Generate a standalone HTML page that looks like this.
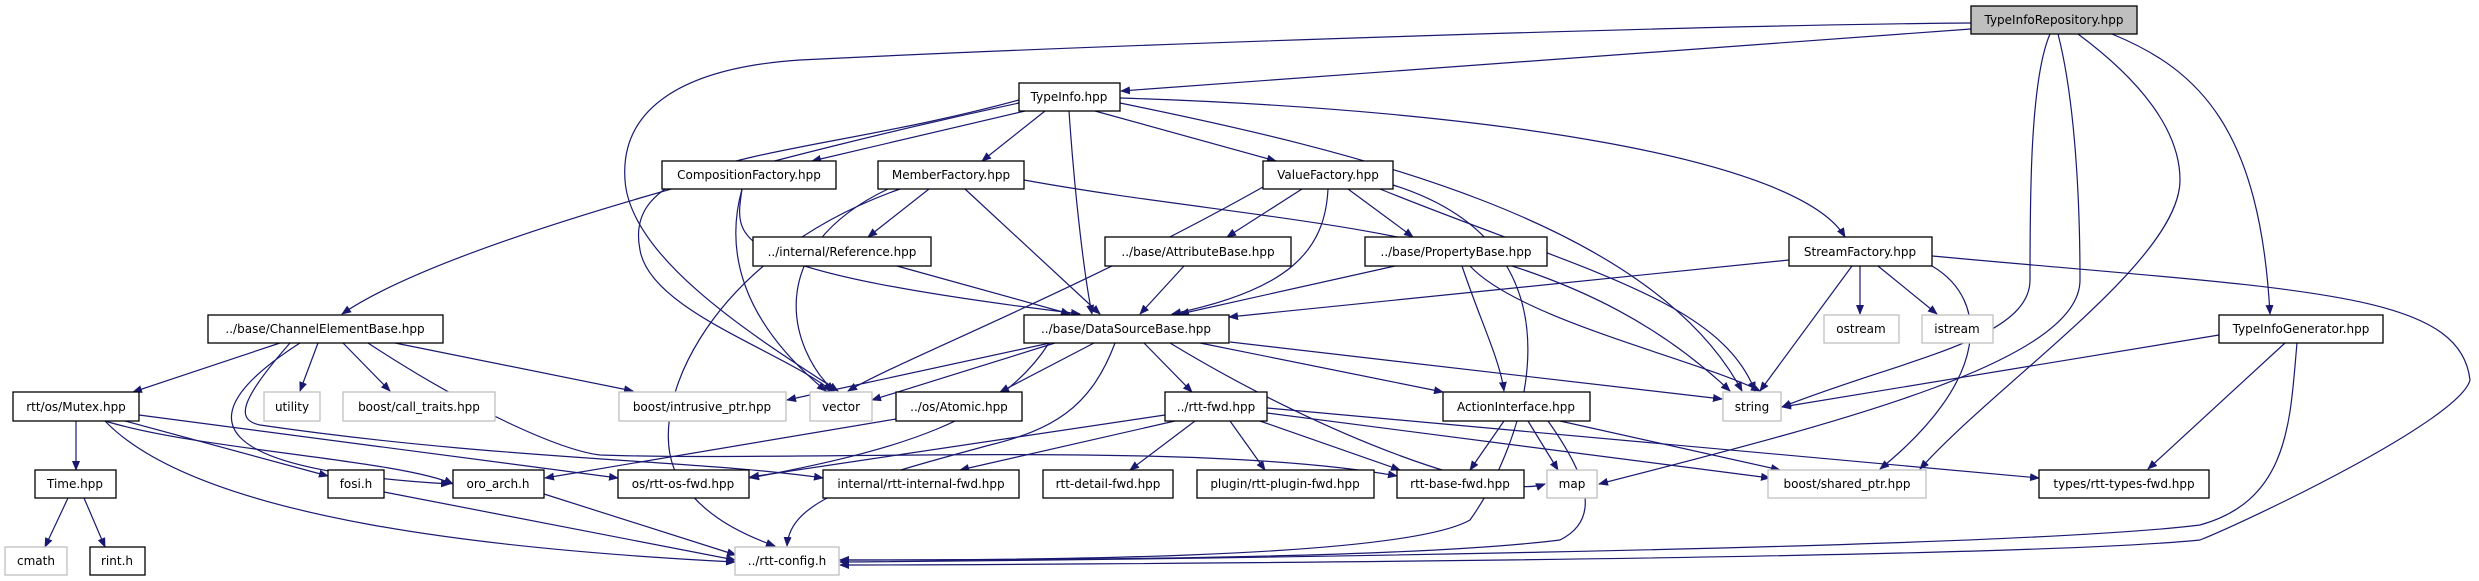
<!DOCTYPE html>
<html><head><meta charset="utf-8"><style>
html,body{margin:0;padding:0;background:#fff;}
svg{display:block;}
text{font-family:"DejaVu Sans","Liberation Sans",sans-serif;font-size:12px;fill:#000;text-anchor:middle;}
.n{fill:#fff;stroke:#000;stroke-width:1.3;}
.g{fill:#fff;stroke:#c0c0c0;stroke-width:1.3;}
.e{fill:none;stroke:#191970;stroke-width:1.2;marker-end:url(#a);}
</style></head><body>
<svg width="2479" height="581" viewBox="0 0 2479 581" xmlns="http://www.w3.org/2000/svg">
<defs><marker id="a" markerWidth="10" markerHeight="8" refX="9" refY="4" orient="auto" markerUnits="userSpaceOnUse"><path d="M0,0 L10,4 L0,8 z" fill="#191970"/></marker></defs>

<g>
<path class="e" d="M1971,29 L1121,91"/>
<path class="e" d="M1971,23 C1700,25 1100,45 800,60 C680,68 620,110 625,180 C630,260 760,340 838,391"/>
<path class="e" d="M2050,34 C2030,80 2030,200 2030,280 C2030,340 1900,360 1782,407"/>
<path class="e" d="M2058,34 C2075,100 2080,200 2080,280 C2080,360 1850,420 1599,484"/>
<path class="e" d="M2078,34 C2140,80 2180,130 2180,180 C2180,260 2000,380 1920,469"/>
<path class="e" d="M2112,34 C2200,70 2260,130 2270,314"/>
<path class="e" d="M1019,103 C800,150 450,240 342,314"/>
<path class="e" d="M1019,100 C800,160 620,150 640,250 C650,310 780,350 832,391"/>
<path class="e" d="M1025,111 L812,161"/>
<path class="e" d="M1045,111 L982,161"/>
<path class="e" d="M1069,111 C1075,200 1085,280 1092,314"/>
<path class="e" d="M1095,111 L1276,161"/>
<path class="e" d="M1120,103 C1350,150 1650,220 1742,391"/>
<path class="e" d="M1120,98 C1500,110 1800,160 1845,237"/>
<path class="e" d="M742,189 C735,240 720,270 1080,314"/>
<path class="e" d="M742,189 C725,250 740,320 826,391"/>
<path class="e" d="M929,189 L868,237"/>
<path class="e" d="M965,189 L1100,314"/>
<path class="e" d="M1024,180 C1300,230 1550,220 1730,391"/>
<path class="e" d="M900,189 C700,260 640,420 680,480 C700,510 730,530 775,546"/>
<path class="e" d="M888,189 C760,250 790,350 834,391"/>
<path class="e" d="M1302,189 L1227,237"/>
<path class="e" d="M1348,189 L1413,237"/>
<path class="e" d="M1328,189 C1325,250 1290,290 1172,314"/>
<path class="e" d="M1263,187 C1080,290 900,360 848,391"/>
<path class="e" d="M1380,189 C1580,270 1720,300 1755,391"/>
<path class="e" d="M1393,185 C1600,250 1520,450 1470,520 C1400,560 1000,560 840,560"/>
<path class="e" d="M897,266 L1070,314"/>
<path class="e" d="M1184,266 L1140,314"/>
<path class="e" d="M1395,266 L1180,314"/>
<path class="e" d="M1462,266 C1480,320 1500,360 1504,391"/>
<path class="e" d="M1470,266 C1520,320 1700,360 1760,391"/>
<path class="e" d="M1789,260 L1229,317"/>
<path class="e" d="M1860,266 L1860,314"/>
<path class="e" d="M1878,266 L1937,314"/>
<path class="e" d="M1852,266 L1760,391"/>
<path class="e" d="M1932,266 C1990,300 1990,380 1880,469"/>
<path class="e" d="M1932,256 C2300,290 2460,290 2470,380 C2460,420 2250,520 2200,540 C2000,560 1000,565 840,565"/>
<path class="e" d="M2219,335 L1782,407"/>
<path class="e" d="M2285,343 L2148,469"/>
<path class="e" d="M2297,343 C2290,420 2290,500 2200,525 C2000,550 1100,560 840,562"/>
<path class="e" d="M280,343 L133,392"/>
<path class="e" d="M318,343 L300,391"/>
<path class="e" d="M343,343 L390,391"/>
<path class="e" d="M395,343 L633,391"/>
<path class="e" d="M300,343 C180,420 210,470 450,484"/>
<path class="e" d="M290,343 C240,400 235,420 260,425 C500,460 700,460 823,478"/>
<path class="e" d="M368,343 C470,410 560,450 600,455 C800,462 1200,440 1397,476"/>
<path class="e" d="M1050,343 L787,400"/>
<path class="e" d="M1055,343 L872,400"/>
<path class="e" d="M1094,343 L1000,392"/>
<path class="e" d="M1144,343 L1192,392"/>
<path class="e" d="M1200,343 L1443,392"/>
<path class="e" d="M1230,342 L1722,399"/>
<path class="e" d="M1170,343 C1330,440 1500,500 1545,484"/>
<path class="e" d="M1115,343 C1090,410 1050,430 990,445 C860,480 790,500 787,546"/>
<path class="e" d="M1049,343 C1000,420 900,450 750,478"/>
<path class="e" d="M896,419 L545,478"/>
<path class="e" d="M1165,415 L750,477"/>
<path class="e" d="M1175,421 L960,470"/>
<path class="e" d="M1195,421 L1130,470"/>
<path class="e" d="M1230,421 L1265,470"/>
<path class="e" d="M1260,421 L1400,470"/>
<path class="e" d="M1267,413 L1770,478"/>
<path class="e" d="M1267,408 L2039,478"/>
<path class="e" d="M1504,421 L1470,470"/>
<path class="e" d="M1528,421 L1558,470"/>
<path class="e" d="M1560,421 L1780,470"/>
<path class="e" d="M1548,421 C1590,480 1600,520 1560,540 C1400,560 1000,560 840,560"/>
<path class="e" d="M76,421 L76,470"/>
<path class="e" d="M125,421 L328,476"/>
<path class="e" d="M139,415 L618,478"/>
<path class="e" d="M105,421 C200,520 500,550 735,562"/>
<path class="e" d="M105,421 C200,450 400,460 453,484"/>
<path class="e" d="M68,498 L45,547"/>
<path class="e" d="M84,498 L105,547"/>
<path class="e" d="M384,492 L735,560"/>
<path class="e" d="M544,494 L736,555"/>
</g>

<g>
<rect x="1971" y="6" width="166" height="28" fill="#bfbfbf" stroke="#000" stroke-width="1.3"/><text x="2054" y="24">TypeInfoRepository.hpp</text>
<rect class="n" x="1019" y="83" width="101" height="28"/><text x="1069" y="101">TypeInfo.hpp</text>
<rect class="n" x="662" y="161" width="174" height="28"/><text x="749" y="179">CompositionFactory.hpp</text>
<rect class="n" x="878" y="161" width="146" height="28"/><text x="951" y="179">MemberFactory.hpp</text>
<rect class="n" x="1263" y="161" width="130" height="28"/><text x="1328" y="179">ValueFactory.hpp</text>
<rect class="n" x="753" y="237" width="178" height="29"/><text x="842" y="256">../internal/Reference.hpp</text>
<rect class="n" x="1105" y="237" width="186" height="29"/><text x="1198" y="256">../base/AttributeBase.hpp</text>
<rect class="n" x="1365" y="237" width="182" height="29"/><text x="1456" y="256">../base/PropertyBase.hpp</text>
<rect class="n" x="1789" y="237" width="143" height="29"/><text x="1860" y="256">StreamFactory.hpp</text>
<rect class="n" x="208" y="315" width="235" height="28"/><text x="325" y="333">../base/ChannelElementBase.hpp</text>
<rect class="n" x="1024" y="315" width="205" height="28"/><text x="1126" y="333">../base/DataSourceBase.hpp</text>
<rect class="g" x="1824" y="315" width="75" height="28"/><text x="1861" y="333">ostream</text>
<rect class="g" x="1922" y="315" width="71" height="28"/><text x="1957" y="333">istream</text>
<rect class="n" x="2219" y="315" width="164" height="28"/><text x="2301" y="333">TypeInfoGenerator.hpp</text>
<rect class="n" x="13" y="392" width="126" height="29"/><text x="76" y="411">rtt/os/Mutex.hpp</text>
<rect class="g" x="264" y="392" width="56" height="29"/><text x="292" y="411">utility</text>
<rect class="g" x="343" y="392" width="152" height="29"/><text x="419" y="411">boost/call_traits.hpp</text>
<rect class="g" x="619" y="392" width="167" height="29"/><text x="702" y="411">boost/intrusive_ptr.hpp</text>
<rect class="g" x="810" y="392" width="62" height="29"/><text x="841" y="411">vector</text>
<rect class="n" x="896" y="392" width="126" height="29"/><text x="959" y="411">../os/Atomic.hpp</text>
<rect class="n" x="1165" y="392" width="102" height="29"/><text x="1216" y="411">../rtt-fwd.hpp</text>
<rect class="n" x="1443" y="392" width="147" height="29"/><text x="1516" y="411">ActionInterface.hpp</text>
<rect class="g" x="1723" y="392" width="58" height="29"/><text x="1752" y="411">string</text>
<rect class="n" x="35" y="470" width="81" height="28"/><text x="75" y="488">Time.hpp</text>
<rect class="n" x="328" y="470" width="56" height="28"/><text x="356" y="488">fosi.h</text>
<rect class="n" x="453" y="470" width="91" height="28"/><text x="498" y="488">oro_arch.h</text>
<rect class="n" x="618" y="470" width="131" height="28"/><text x="683" y="488">os/rtt-os-fwd.hpp</text>
<rect class="n" x="823" y="470" width="196" height="28"/><text x="921" y="488">internal/rtt-internal-fwd.hpp</text>
<rect class="n" x="1043" y="470" width="130" height="28"/><text x="1108" y="488">rtt-detail-fwd.hpp</text>
<rect class="n" x="1197" y="470" width="177" height="28"/><text x="1285" y="488">plugin/rtt-plugin-fwd.hpp</text>
<rect class="n" x="1397" y="470" width="127" height="28"/><text x="1460" y="488">rtt-base-fwd.hpp</text>
<rect class="g" x="1547" y="470" width="50" height="28"/><text x="1572" y="488">map</text>
<rect class="g" x="1768" y="470" width="158" height="28"/><text x="1847" y="488">boost/shared_ptr.hpp</text>
<rect class="n" x="2039" y="470" width="170" height="28"/><text x="2124" y="488">types/rtt-types-fwd.hpp</text>
<rect class="g" x="5" y="547" width="62" height="28"/><text x="36" y="565">cmath</text>
<rect class="n" x="90" y="547" width="55" height="28"/><text x="117" y="565">rint.h</text>
<rect class="g" x="735" y="547" width="104" height="28"/><text x="787" y="565">../rtt-config.h</text>
</g>
</svg>
</body></html>
